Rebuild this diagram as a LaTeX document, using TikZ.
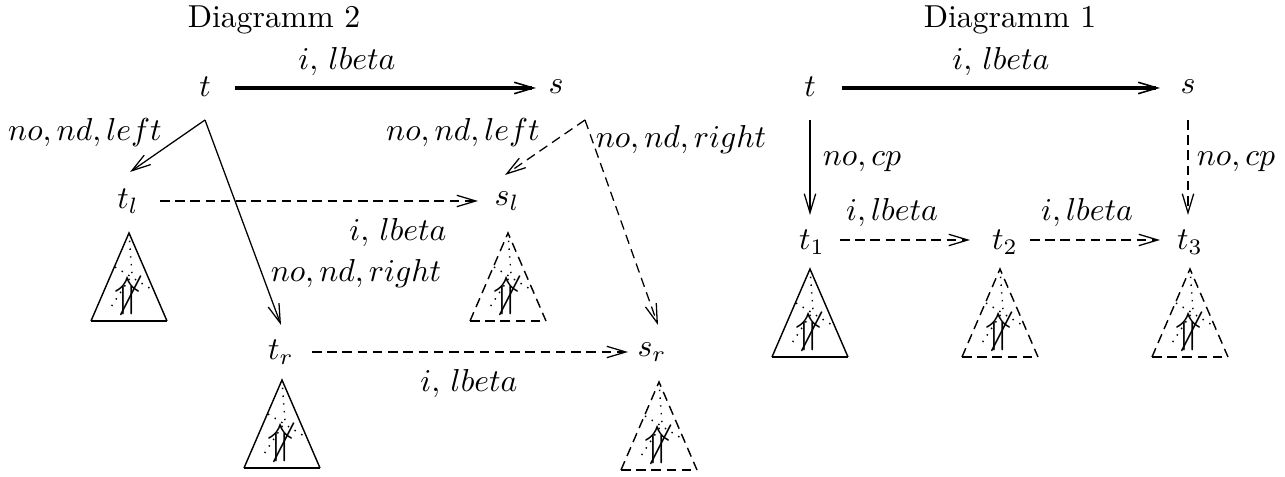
\documentclass[tikz,border=0pt]{standalone}
\usetikzlibrary{arrows.meta,calc}
\begin{document}
\begin{tikzpicture}[x=0.315pt,y=-0.315pt,
  lbl/.style={inner sep=0pt},
  vert/.style={inner sep=0pt},
  arr/.style={-{Straight Barb[length=6pt,width=3.6pt]},line width=0.4pt},
  thickarr/.style={-{Straight Barb[length=6pt,width=3.6pt,line width=0.5pt]},line width=1pt},
  dsh/.style={dash pattern=on 3pt off 1.8pt},
  pics/tri/.style={code={
    \draw[line width=0.45pt,#1] (-38,88) -- (0,0) -- (38,88);
    \draw[line width=0.8pt,#1] (-38,88) -- (38,88);
    \draw[dotted,line width=0.45pt] (0,0) -- (3,42) -- (-18,74);
    \draw[dotted,line width=0.45pt] (-14,34) -- (22,56);
    \node[inner sep=0pt,scale=1.35] at (-1,63) {$\not\Uparrow$};
  }}]
\useasboundingbox (0,0) rectangle (1285,477);
% titles
\node (title2) at (274,20) {Diagramm 2};
\node (title1) at (1010,20) {Diagramm 1};
% ---------- Diagramm 2
\node[vert] (t) at (205,87) {$t$};
\node[vert] (s) at (556,87) {$s$};
\node[vert] (tl) at (128,201) {$t_l$};
\node[vert] (sl) at (507,201) {$s_l$};
\node[vert] (tr) at (281,352) {$t_r$};
\node[vert] (sr) at (652,352) {$s_r$};
\draw[thickarr] ($(t)+(30,1)$) -- ($(s)+(-20,1)$);
\node[lbl] (l1) at (347,62) {$i,\,lbeta$};
\draw[arr] ($(t)+(0,33)$) -- ($(tl)+(2,-29)$);
\node[lbl] (l2) at (85,133) {$no,nd,left$};
\draw[arr] ($(t)+(0,33)$) -- ($(tr)+(0,-27)$);
\node[lbl] (l3) at (356,274) {$no,nd,right$};
\draw[arr,dsh] ($(tl)+(32,0)$) -- ($(sl)+(-29,0)$);
\node[lbl] (l4) at (398,233) {$i,\,lbeta$};
\draw[arr,dsh] ($(s)+(29,33)$) -- ($(sl)+(-2,-26)$);
\node[lbl] (l5) at (463,133) {$no,nd,left$};
\draw[arr,dsh] ($(s)+(29,33)$) -- ($(sr)+(6,-27)$);
\node[lbl] (l6) at (681,140) {$no,nd,right$};
\draw[arr,dsh] ($(tr)+(31,0)$) -- ($(sr)+(-24,0)$);
\node[lbl] (l7) at (469,384) {$i,\,lbeta$};
\pic at (129,233) {tri};
\pic at (508,233) {tri=dsh};
\pic at (282,380) {tri};
\pic at (659,382) {tri=dsh};
% ---------- Diagramm 1
\node[vert] (u) at (810,87) {$t$};
\node[vert] (v) at (1188,87) {$s$};
\node[vert] (t1) at (812,242) {$t_1$};
\node[vert] (t2) at (1005,242) {$t_2$};
\node[vert] (t3) at (1190,242) {$t_3$};
\draw[thickarr] ($(u)+(32,1)$) -- ($(v)+(-28,1)$);
\node[lbl] (m1) at (1001,62) {$i,\,lbeta$};
\draw[arr] ($(u)+(0,33)$) -- ($(t1)+(-2,-27)$);
\node[lbl] (m2) at (862,162) {$no,cp$};
\draw[arr,dsh] ($(v)+(0,33)$) -- ($(t3)+(-2,-27)$);
\node[lbl] (m3) at (1236,162) {$no,cp$};
\draw[arr,dsh] ($(t1)+(28,-2)$) -- ($(t2)+(-35,-2)$);
\node[lbl] (m4) at (892,213) {$i,lbeta$};
\draw[arr,dsh] ($(t2)+(25,-2)$) -- ($(t3)+(-30,-2)$);
\node[lbl] (m5) at (1087,213) {$i,lbeta$};
\pic at (810,269) {tri};
\pic at (1000,269) {tri=dsh};
\pic at (1190,269) {tri=dsh};
\end{tikzpicture}
\end{document}
